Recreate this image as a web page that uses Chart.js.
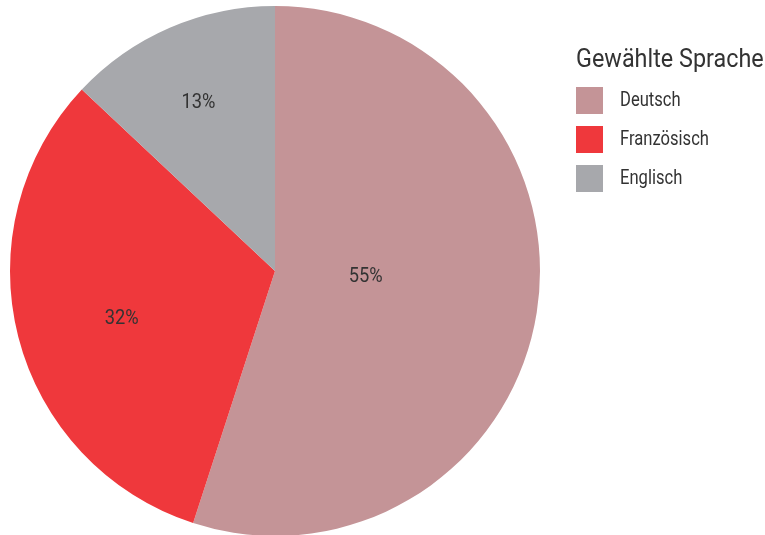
<!DOCTYPE html>
<html lang="de">
<head>
<meta charset="utf-8">
<title>Gewählte Sprache</title>
<script src="https://cdn.jsdelivr.net/npm/chart.js@4/dist/chart.umd.min.js"></script>
<style>
  html, body { margin: 0; padding: 0; background: #ffffff; overflow: hidden; }
  body { width: 765px; height: 535px; position: relative; }
  #wrap { position: absolute; left: 0; top: 0; width: 765px; height: 540px; }
  #legend {
    position: absolute; left: 576px; top: 44px;
    font-family: Roboto, "Liberation Sans", sans-serif;
    color: #333333;
  }
  #legend .title {
    font-size: 25px; line-height: 30px; margin: 0 0 13px 0; white-space: nowrap;
    transform: scaleX(0.935); transform-origin: 0 50%;
  }
  #legend .item { display: flex; align-items: center; height: 27px; margin-bottom: 12px; }
  #legend .box { width: 27px; height: 27px; margin-right: 17px; flex: none; }
  #legend .label {
    font-size: 21px; white-space: nowrap; position: relative; top: -2px;
    transform: scaleX(0.79); transform-origin: 0 50%;
  }
</style>
</head>
<body>
<div id="wrap"><canvas id="chart" width="765" height="540"></canvas></div>
<div id="legend"></div>
<script>
// Answer shares (percent) per chosen language
const legendTitle = "Gewählte Sprache";
const languages = ["Deutsch", "Französisch", "Englisch"];
const shares = [55, 32, 13];
const sliceColors = ["#c49497", "#ef383c", "#a7a8ac"];

// Where each percent label sits: fraction of the radius and angular nudge (deg)
const labelPlacement = [
  { r: 0.343, shift: -6.2 },
  { r: 0.605, shift: -2.5 },
  { r: 0.700, shift: -1.0 }
];

const FONT = 'Roboto, "Liberation Sans", sans-serif';

const percentLabels = {
  id: "percentLabels",
  afterDatasetsDraw(chart) {
    const ctx = chart.ctx;
    const meta = chart.getDatasetMeta(0);
    meta.data.forEach((arc, i) => {
      const p = arc.getProps(["x", "y", "startAngle", "endAngle", "outerRadius"], true);
      const place = labelPlacement[i];
      const mid = (p.startAngle + p.endAngle) / 2 + place.shift * Math.PI / 180;
      const rr = p.outerRadius * place.r;
      const x = p.x + Math.cos(mid) * rr;
      const y = p.y + Math.sin(mid) * rr;
      ctx.save();
      ctx.translate(x, y);
      ctx.scale(0.87, 1);          // condensed look
      ctx.font = "21px " + FONT;
      ctx.fillStyle = "#333333";
      ctx.textAlign = "center";
      ctx.textBaseline = "middle";
      ctx.fillText(shares[i] + "%", 0, 1);
      ctx.restore();
    });
  }
};

new Chart(document.getElementById("chart"), {
  type: "pie",
  data: {
    labels: languages,
    datasets: [{
      data: shares,
      backgroundColor: sliceColors,
      borderWidth: 0,
      hoverOffset: 0
    }]
  },
  options: {
    responsive: false,
    animation: false,
    layout: { padding: { left: 10, top: 6, right: 225, bottom: 4 } },
    plugins: {
      legend: { display: false },
      tooltip: { enabled: false }
    }
  },
  plugins: [percentLabels]
});

// Legend built from the same arrays
const legend = document.getElementById("legend");
const t = document.createElement("div");
t.className = "title";
t.textContent = legendTitle;
legend.appendChild(t);
languages.forEach((name, i) => {
  const row = document.createElement("div");
  row.className = "item";
  const b = document.createElement("div");
  b.className = "box";
  b.style.background = sliceColors[i];
  const l = document.createElement("div");
  l.className = "label";
  l.textContent = name;
  row.appendChild(b);
  row.appendChild(l);
  legend.appendChild(row);
});
</script>
</body>
</html>
